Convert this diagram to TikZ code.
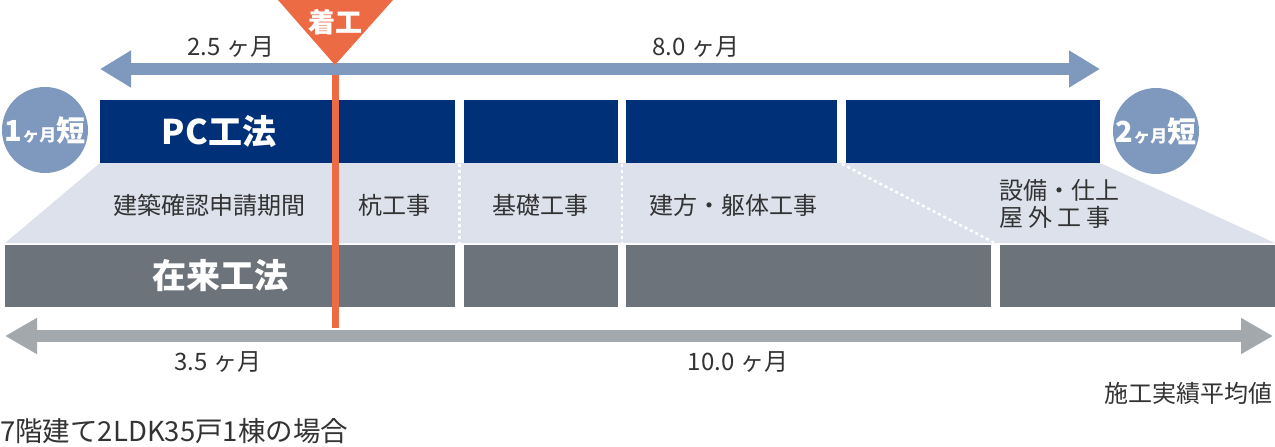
\documentclass[tikz,border=0pt]{standalone}
\usepackage{fontspec}
\setmainfont{Noto Sans CJK JP}
\usetikzlibrary{arrows.meta}
\definecolor{pcblue}{HTML}{003078}
\definecolor{circblue}{HTML}{7F98BD}
\definecolor{lightreg}{HTML}{DCE1EC}
\definecolor{greybar}{HTML}{6D737A}
\definecolor{greyarrow}{HTML}{A3A8AD}
\definecolor{orng}{HTML}{EC6B45}
\definecolor{txt}{HTML}{333333}
\newcommand{\fs}[1]{\fontsize{#1}{#1}\selectfont}
\tikzset{
  pcbox/.style={fill=pcblue, draw=none, inner sep=0, anchor=north west, minimum height=63pt},
  grbox/.style={fill=greybar, draw=none, inner sep=0, anchor=north west, minimum height=62pt},
  lbl/.style={text=txt, inner sep=0, font=\fs{24}},
  dotline/.style={draw=white, line width=2.5pt, dash pattern=on 3pt off 3pt},
  circ/.style={circle, fill=circblue, minimum size=86pt, inner sep=0, text=white},
}
\begin{document}
\begin{tikzpicture}[x=1pt,y=-1pt]
\useasboundingbox (0,0) rectangle (1275,447);
% light region
\fill[lightreg] (100,163) -- (1100,163) -- (1275,243) -- (5,243) -- cycle;
% PC bars
\node[pcbox, minimum width=355pt] (pc1) at (100,100) {};
\node[pcbox, minimum width=154pt] (pc2) at (464,100) {};
\node[pcbox, minimum width=211pt] (pc3) at (626,100) {};
\node[pcbox, minimum width=254pt] (pc4) at (846,100) {};
\node[text=white, font=\fs{34}\bfseries, inner sep=0] (pct) at (219,132) {PC工法};
% conventional bars
\node[grbox, minimum width=450pt] (gr1) at (5,245) {};
\node[grbox, minimum width=154pt] (gr2) at (464,245) {};
\node[grbox, minimum width=365pt] (gr3) at (626,245) {};
\node[grbox, minimum width=275pt] (gr4) at (1000,245) {};
\node[text=white, font=\fs{34}\bfseries, inner sep=0] (grt) at (220,276) {在来工法};
% dotted separators
\coordinate (d1a) at (459.5,164); \coordinate (d1b) at (459.5,243);
\coordinate (d2a) at (622,164); \coordinate (d2b) at (622,243);
\coordinate (d3a) at (842,164); \coordinate (d3b) at (995,243);
\draw[dotline] (d1a) -- (d1b);
\draw[dotline] (d2a) -- (d2b);
\draw[dotline] (d3a) -- (d3b);
% stage labels
\node[lbl] (s1) at (209,205) {建築確認申請期間};
\node[lbl] (s2) at (394,205) {杭工事};
\node[lbl] (s3) at (540,205) {基礎工事};
\node[lbl] (s4) at (733,205) {建方・躯体工事};
\node[lbl, anchor=west] (s5a) at (999,190) {設備・仕上};
\node[lbl, anchor=west] (s5b) at (999,217) {屋\hspace{5pt}外\hspace{5pt}工\hspace{5pt}事};
% orange start line
\coordinate (oa) at (335,70); \coordinate (ob) at (335,328);
\draw[orng, line width=7pt] (oa) -- (ob);
% top arrow
\coordinate (ta) at (100,69); \coordinate (tb) at (1100,69);
\draw[circblue, line width=12pt, {Triangle[length=31pt,width=35pt]}-{Triangle[length=31pt,width=35pt]}] (ta) -- (tb);
% bottom arrow
\coordinate (ba) at (5,336); \coordinate (bb) at (1273,336);
\draw[greyarrow, line width=12pt, {Triangle[length=32pt,width=34pt]}-{Triangle[length=32pt,width=34pt]}] (ba) -- (bb);
% orange triangle
\fill[orng] (278,0) -- (393,0) -- (335,65) -- cycle;
\node[text=white, font=\fs{27}\bfseries, inner sep=0] (chk) at (335,22) {着工};
% circles
\node[circ] (c1) at (45,130) {\fs{29}\bfseries 1\fs{17}ヶ月\fs{29}短};
\node[circ] (c2) at (1156,131) {\fs{29}\bfseries 2\fs{17}ヶ月\fs{29}短};
% duration labels
\node[lbl] (t1) at (231,47) {2.5\hspace{6pt}ヶ月};
\node[lbl] (t2) at (696,47) {8.0\hspace{6pt}ヶ月};
\node[lbl] (t3) at (218,362) {3.5\hspace{6pt}ヶ月};
\node[lbl] (t4) at (738,362) {10.0\hspace{6pt}ヶ月};
% notes
\node[lbl, anchor=east] (n1) at (1273,393) {施工実績平均値};
\node[lbl, anchor=west, font=\fs{27.5}] (n2) at (0,431) {7階建て2LDK35戸1棟の場合};
\end{tikzpicture}
\end{document}
